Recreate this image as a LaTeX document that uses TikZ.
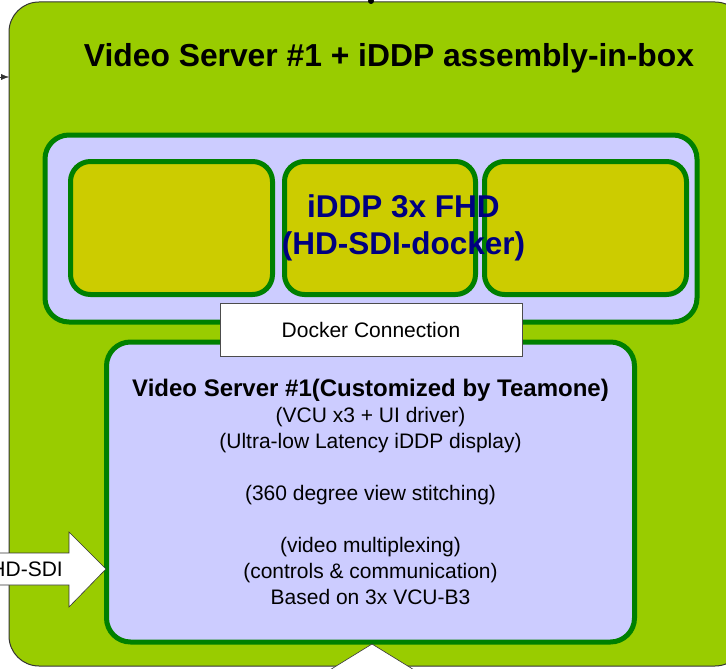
\documentclass[tikz,border=0pt]{standalone}
\usepackage{fontspec}
\setmainfont{Liberation Sans}
\usetikzlibrary{arrows.meta}
\begin{document}
\begin{tikzpicture}[x=1pt,y=-1pt]

      \definecolor{boxgreen}{HTML}{99CC00}
      \definecolor{lavender}{HTML}{CCCCFF}
      \definecolor{darkgreen}{HTML}{008000}
      \definecolor{olive}{HTML}{CCCC00}
      \definecolor{navy}{HTML}{000080}
      \tikzset{panel/.style={draw=darkgreen, line width=5pt, fill=lavender, rounded corners=24pt, inner sep=0pt},
               slot/.style={draw=darkgreen, line width=5pt, fill=olive, rounded corners=20pt, minimum width=202pt, minimum height=133pt},
               blockarrow/.style={draw=black!80, line width=0.6pt, fill=white}}
      \useasboundingbox (0,0) rectangle (726,669);
%% Assembly box
      	\node[draw=black!80, line width=1pt, fill=boxgreen, rounded corners=30pt, minimum width=736pt, minimum height=664pt] (assembly) at (377,334) {};
      	\node[font=\bfseries\fontsize{31.8}{36}\selectfont] (title) at (389,58) {Video Server \#1 + iDDP assembly-in-box};
      	\node[fill=black, circle, inner sep=0pt, minimum size=6pt] (topdot) at (371,1) {};
      	\coordinate (inleft) at (-12,77);
      	\coordinate (inport) at (9,77);
		\draw [-{Latex[length=8pt,width=6pt]}, black!80] (inleft) -- (inport);
%% iDDP docker
      	\node[panel, minimum width=652pt, minimum height=187pt] (docker) at (371,228.5) {};
      	\node[slot] (fhd1) at (171.5,228) {};
      	\node[slot, minimum width=191pt] (fhd2) at (380,228) {};
      	\node[slot] (fhd3) at (585.5,228) {};
      	\node[font=\bfseries\fontsize{31.5}{37}\selectfont, text=navy, align=center] (iddp) at (403.5,228) {iDDP 3x FHD\\(HD-SDI-docker)};
%% Video server
      	\node[panel, minimum width=528pt, minimum height=300pt, align=center, font=\fontsize{21}{26}\selectfont] (server) at (370.5,492) {{\bfseries\fontsize{24}{26}\selectfont Video Server \#1(Customized by Teamone)}\\
      	(VCU x3 + UI driver)\\(Ultra-low Latency iDDP display)\\[26pt]
      	(360 degree view stitching)\\[26pt]
      	(video multiplexing)\\(controls \& communication)\\Based on 3x VCU-B3};
      	\node[draw=black!70, line width=0.8pt, fill=white, minimum width=302pt, minimum height=53pt, font=\fontsize{21}{26}\selectfont] (connection) at (371,330) {Docker Connection};
%% Block arrows
		\draw [blockarrow] (-20,553) -- (69,553) -- (69,532) -- (106,569) coordinate (sditip) -- (69,607) -- (69,585) -- (-20,585);
      	\node[anchor=east, font=\fontsize{21}{26}\selectfont, inner sep=0pt] (sdi) at (63,569) {HD-SDI};
		\draw [blockarrow] (320,676) -- (372,644) coordinate (outtip) -- (424,676);

	\end{tikzpicture}
\end{document}
